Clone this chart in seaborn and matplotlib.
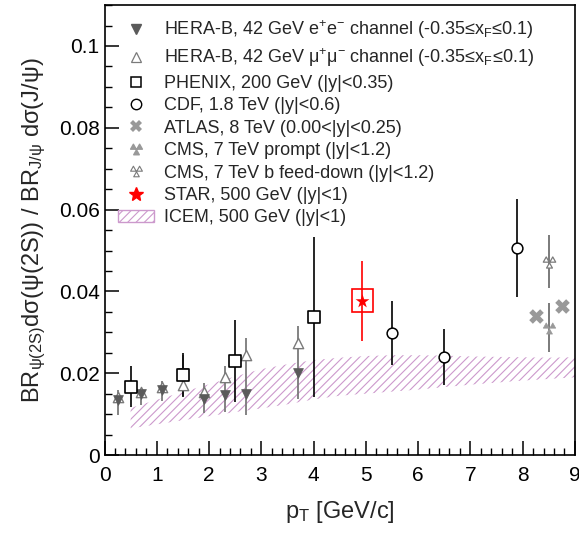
import numpy as np
import pandas as pd
import seaborn as sns
import matplotlib
matplotlib.use("Agg")
import matplotlib.pyplot as plt
from matplotlib.path import Path
from matplotlib.patches import Rectangle
from matplotlib.lines import Line2D

# HERA-B e+e- channel
herab_ee_x = [0.25, 0.7, 1.1, 1.5, 1.9, 2.3, 2.7, 3.7]
herab_ee_y = [0.0135, 0.0148, 0.0160, 0.0200, 0.0138, 0.0147, 0.0150, 0.0200]
herab_ee_lo = [0.0038, 0.0025, 0.0027, 0.0055, 0.0036, 0.0042, 0.0053, 0.0062]
herab_ee_hi = [0.0023, 0.0010, 0.0020, 0.0045, 0.0037, 0.0071, 0.0137, 0.0116]

# HERA-B mu+mu- channel
herab_mm_x = [0.25, 0.7, 1.1, 1.5, 1.9, 2.3, 2.7, 3.7]
herab_mm_y = [0.0142, 0.0154, 0.0167, 0.0170, 0.0155, 0.0190, 0.0245, 0.0275]

# PHENIX
phenix_x = [0.5, 1.5, 2.5, 4.0]
phenix_y = [0.0167, 0.0196, 0.0229, 0.0338]
phenix_err = [0.0050, 0.0053, 0.0100, 0.0196]

# CDF
cdf_x = [5.5, 6.5, 7.9]
cdf_y = [0.0298, 0.0239, 0.0506]
cdf_err = [0.0078, 0.0068, 0.0119]

# ATLAS
atlas_x = [8.25, 8.75]
atlas_y = [0.0340, 0.0364]

# CMS
cms_prompt_x = [8.5]
cms_prompt_y = [0.0311]
cms_prompt_err = [0.0060]
cms_b_x = [8.5]
cms_b_y = [0.0473]
cms_b_err = [0.0065]

# STAR
star_x = [4.93]
star_y = [0.0377]
star_stat = [0.0098]
star_sys = [0.0028]

# ICEM band
icem_x = [0.5, 1.0, 1.5, 2.0, 2.5, 3.0, 3.5, 4.0, 4.5, 5.0, 5.5, 6.0, 6.5, 7.0, 7.5, 8.0, 8.5, 9.0]
icem_hi = [0.0115, 0.0135, 0.0154, 0.0173, 0.0192, 0.0210, 0.0222, 0.0232, 0.0238, 0.0242, 0.0244,
           0.0244, 0.0243, 0.0241, 0.0240, 0.0239, 0.0238, 0.0239]
icem_lo = [0.0065, 0.0075, 0.0085, 0.0095, 0.0105, 0.0114, 0.0124, 0.0136, 0.0145, 0.0150, 0.0155,
           0.0160, 0.0166, 0.0172, 0.0177, 0.0182, 0.0186, 0.0190]

labels = [
    r"HERA-B, 42 GeV e$^{+}$e$^{-}$ channel (-0.35≤x$_{\mathrm{F}}$≤0.1)",
    r"HERA-B, 42 GeV μ$^{+}$μ$^{-}$ channel (-0.35≤x$_{\mathrm{F}}$≤0.1)",
    "PHENIX, 200 GeV (|y|<0.35)",
    "CDF, 1.8 TeV (|y|<0.6)",
    "ATLAS, 8 TeV (0.00<|y|<0.25)",
    "CMS, 7 TeV prompt (|y|<1.2)",
    "CMS, 7 TeV b feed-down (|y|<1.2)",
    "STAR, 500 GeV (|y|<1)",
    "ICEM, 500 GeV (|y|<1)",
]


def tri_marker():
    verts, codes = [], []
    for cx, cy in [(-0.5, 0.45), (0.5, 0.45), (0.0, -0.45)]:
        pts = [(cx - 0.45, cy - 0.4), (cx + 0.45, cy - 0.4), (cx, cy + 0.4), (cx - 0.45, cy - 0.4)]
        verts += pts
        codes += [Path.MOVETO, Path.LINETO, Path.LINETO, Path.CLOSEPOLY]
    return Path(verts, codes)


sns.set_theme(style="ticks")
plt.rcParams["font.family"] = ["Liberation Sans", "DejaVu Sans"]
plt.rcParams["mathtext.fontset"] = "custom"
plt.rcParams["mathtext.rm"] = "Liberation Sans"
plt.rcParams["mathtext.it"] = "Liberation Sans:italic"
plt.rcParams["hatch.linewidth"] = 0.8

fig = plt.figure(figsize=(5.79, 5.35), dpi=100)
ax = fig.add_axes([0.1805, 0.1495, 0.8125, 0.841])

# ICEM band
ax.fill_between(icem_x, icem_lo, icem_hi, facecolor="none", edgecolor="#cc99cc",
                hatch="////", linewidth=0, zorder=1)

grey_dark = "#5a5a5a"
grey = "#7a7a7a"
grey_light = "#999999"
tri = tri_marker()

# error bars
ax.errorbar(herab_ee_x, herab_ee_y, yerr=[herab_ee_lo, herab_ee_hi], fmt="none",
            ecolor=grey, elinewidth=1.3, capsize=0, zorder=2)
ax.errorbar(phenix_x, phenix_y, yerr=phenix_err, fmt="none", ecolor="black",
            elinewidth=1.2, capsize=0, zorder=2)
ax.errorbar(cdf_x, cdf_y, yerr=cdf_err, fmt="none", ecolor="black",
            elinewidth=1.2, capsize=0, zorder=2)
ax.errorbar(cms_prompt_x, cms_prompt_y, yerr=cms_prompt_err, fmt="none", ecolor=grey,
            elinewidth=1.4, capsize=0, zorder=2)
ax.errorbar(cms_b_x, cms_b_y, yerr=cms_b_err, fmt="none", ecolor=grey,
            elinewidth=1.4, capsize=0, zorder=2)
ax.errorbar(star_x, star_y, yerr=star_stat, fmt="none", ecolor="red",
            elinewidth=1.2, capsize=0, zorder=2)
for x, y, s in zip(star_x, star_y, star_sys):
    ax.add_patch(Rectangle((x - 0.2, y - s), 0.4, 2 * s, facecolor="none",
                           edgecolor="red", linewidth=1.2, zorder=3))

# markers
sns.scatterplot(x=herab_mm_x, y=herab_mm_y, marker="^", s=55, facecolor="white",
                edgecolor=grey, linewidth=1.0, ax=ax, zorder=4)
sns.scatterplot(x=herab_ee_x, y=herab_ee_y, marker="v", s=50, color=grey_dark,
                edgecolor=grey_dark, linewidth=0.5, ax=ax, zorder=5)
sns.scatterplot(x=phenix_x, y=phenix_y, marker="s", s=70, facecolor="white",
                edgecolor="black", linewidth=1.2, ax=ax, zorder=5)
sns.scatterplot(x=cdf_x, y=cdf_y, marker="o", s=60, facecolor="white",
                edgecolor="black", linewidth=1.1, ax=ax, zorder=5)
sns.scatterplot(x=atlas_x, y=atlas_y, marker="X", s=110, color=grey_light,
                edgecolor=grey_light, linewidth=0, ax=ax, zorder=5)
sns.scatterplot(x=cms_prompt_x, y=cms_prompt_y, marker=tri, s=80, color=grey_light,
                edgecolor=grey_light, linewidth=0.5, ax=ax, zorder=5)
sns.scatterplot(x=cms_b_x, y=cms_b_y, marker=tri, s=80, facecolor="white",
                edgecolor=grey, linewidth=0.9, ax=ax, zorder=5)
sns.scatterplot(x=star_x, y=star_y, marker="*", s=110, color="red",
                edgecolor="red", linewidth=0, ax=ax, zorder=6)

ax.set_xlim(0, 9)
ax.set_ylim(0, 0.11)
ax.set_xticks(np.arange(0, 10, 1))
ax.set_xticks(np.arange(0, 9.01, 0.2), minor=True)
ax.set_yticks([0, 0.02, 0.04, 0.06, 0.08, 0.1])
ax.set_yticklabels(["0", "0.02", "0.04", "0.06", "0.08", "0.1"])
ax.set_yticks(np.arange(0, 0.1101, 0.005), minor=True)
ax.tick_params(axis="both", which="both", direction="in", top=False, right=False,
               labelsize=15, colors="black")
ax.tick_params(axis="both", which="major", length=10, width=1.1)
ax.tick_params(axis="both", which="minor", length=5, width=1.0)
ax.tick_params(axis="x", pad=8)
for sp in ax.spines.values():
    sp.set_visible(True)
    sp.set_color("black")
    sp.set_linewidth(1.2)

ax.set_xlabel(r"p$_{\mathrm{T}}$ [GeV/c]", fontsize=17, labelpad=10)
ax.set_ylabel(r"BR$_{\mathrm{ψ(2S)}}$dσ(ψ(2S)) / BR$_{\mathrm{J/ψ}}$ dσ(J/ψ)",
              fontsize=17, labelpad=8)

handles = [
    Line2D([], [], linestyle="none", marker="v", markersize=7, color=grey_dark),
    Line2D([], [], linestyle="none", marker="^", markersize=7, markerfacecolor="white",
           markeredgecolor=grey, markeredgewidth=0.9),
    Line2D([], [], linestyle="none", marker="s", markersize=7.5, markerfacecolor="white",
           markeredgecolor="black", markeredgewidth=1.1),
    Line2D([], [], linestyle="none", marker="o", markersize=7.5, markerfacecolor="white",
           markeredgecolor="black", markeredgewidth=1.0),
    Line2D([], [], linestyle="none", marker="X", markersize=9, color=grey_light,
           markeredgewidth=0),
    Line2D([], [], linestyle="none", marker=tri, markersize=8.5, color=grey_light),
    Line2D([], [], linestyle="none", marker=tri, markersize=8.5, markerfacecolor="white",
           markeredgecolor=grey, markeredgewidth=0.8),
    Line2D([], [], linestyle="none", marker="*", markersize=10, color="red"),
    Rectangle((0, 0), 1, 1, facecolor="none", edgecolor="#cc99cc", hatch="////",
              linewidth=1.0),
]
leg = ax.legend(handles, labels, loc="upper left", bbox_to_anchor=(0.0, 1.0),
                frameon=False, fontsize=13, handlelength=2.0, handletextpad=0.55,
                labelspacing=0.3, borderaxespad=0.35)

fig.savefig("out.png", dpi=100)
